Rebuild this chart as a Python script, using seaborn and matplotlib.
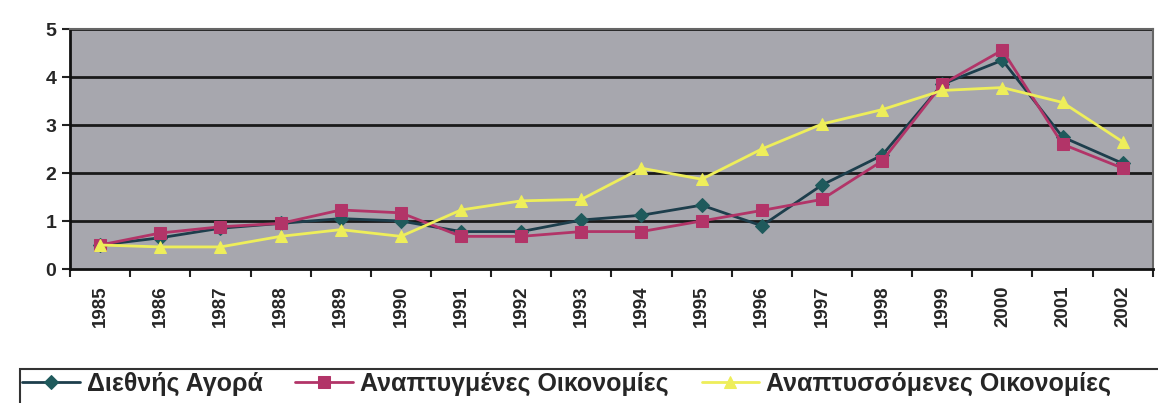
import matplotlib
matplotlib.use("Agg")
import matplotlib.pyplot as plt
import seaborn as sns
import pandas as pd
import numpy as np
from matplotlib.ticker import FixedLocator
from matplotlib.patches import Rectangle

years = [1985, 1986, 1987, 1988, 1989, 1990, 1991, 1992, 1993,
         1994, 1995, 1996, 1997, 1998, 1999, 2000, 2001, 2002]
world = [0.5, 0.65, 0.85, 0.95, 1.05, 1.0, 0.78, 0.78, 1.02,
         1.12, 1.33, 0.9, 1.75, 2.37, 3.85, 4.35, 2.75, 2.2]
developed = [0.5, 0.75, 0.88, 0.95, 1.23, 1.17, 0.68, 0.68, 0.78,
             0.78, 1.0, 1.22, 1.45, 2.25, 3.85, 4.56, 2.6, 2.1]
developing = [0.5, 0.46, 0.46, 0.68, 0.82, 0.68, 1.23, 1.42, 1.45,
              2.1, 1.87, 2.5, 3.02, 3.32, 3.72, 3.78, 3.47, 2.65]
names = ["Διεθνής Αγορά", "Αναπτυγμένες Οικονομίες", "Αναπτυσσόμενες Οικονομίες"]
yticks = [0, 1, 2, 3, 4, 5]

df = pd.DataFrame({
    "year": years * 3,
    "value": world + developed + developing,
    "series": [names[0]] * len(years) + [names[1]] * len(years) + [names[2]] * len(years),
})

sns.set_theme(style="white")
plt.rcParams['font.family'] = ['Liberation Sans', 'DejaVu Sans']

fig = plt.figure(figsize=(11.58, 4.03), dpi=100)
ax = fig.add_axes([0.0605, 0.3325, 0.935, 0.5955])
ax.set_facecolor("#a7a7ae")

palette = {names[0]: "#1d3e4c", names[1]: "#b23468", names[2]: "#eeee5a"}
mfc = {names[0]: "#1f5a5c", names[1]: "#b23468", names[2]: "#eeee5a"}
markers = {names[0]: "D", names[1]: "s", names[2]: "^"}
sizes = {names[0]: 7, names[1]: 8, names[2]: 9}

for n in names:
    sub = df[df.series == n]
    sns.lineplot(data=sub, x="year", y="value", ax=ax, color=palette[n],
                 marker=markers[n], markersize=sizes[n], markeredgecolor=mfc[n],
                 markerfacecolor=mfc[n], linewidth=2, label=n, legend=False)

ax.set_xlim(years[0] - 0.5, years[-1] + 0.5)
ax.set_ylim(0, 5)
ax.set_yticks(yticks)
ax.set_yticklabels([str(t) for t in yticks], fontsize=14, fontweight="bold")
for t in yticks[1:]:
    ax.axhline(t, color="#1a1a1a", linewidth=2, zorder=1)

ax.xaxis.set_major_locator(FixedLocator([y - 0.5 for y in years] + [years[-1] + 0.5]))
ax.set_xticklabels([])
ax.xaxis.set_minor_locator(FixedLocator(years))
ax.set_xticklabels([str(y) for y in years], minor=True, rotation=90,
                   fontsize=13.5, fontweight="bold")
ax.tick_params(axis="x", which="major", length=6, width=1.5, color="#222", direction="out", bottom=True)
ax.tick_params(axis="x", which="minor", length=0, pad=12, bottom=True)
ax.tick_params(axis="y", length=6, width=1.5, color="#222", direction="out", left=True, pad=4)
ax.set_xlabel("")
ax.set_ylabel("")

for s in ["left", "bottom"]:
    ax.spines[s].set_color("#111")
    ax.spines[s].set_linewidth(2)
for s in ["top", "right"]:
    ax.spines[s].set_color("#666")
    ax.spines[s].set_linewidth(1.5)

handles, labels = ax.get_legend_handles_labels()
leg = fig.legend(handles, labels, loc="upper left",
                 bbox_to_anchor=(22 / 1158, 1 - 372 / 403),
                 ncol=3, frameon=False,
                 prop={"weight": "bold", "size": 18}, handlelength=2.3, handletextpad=0.3,
                 columnspacing=1.3, borderpad=0.0, borderaxespad=0)
fig.add_artist(Rectangle((20 / 1158, -0.05), 1.0, 1 - 369 / 403 + 0.05,
                         transform=fig.transFigure, fill=False,
                         edgecolor="#333", linewidth=1.5))

fig.savefig("out.png", dpi=100, facecolor="white")
